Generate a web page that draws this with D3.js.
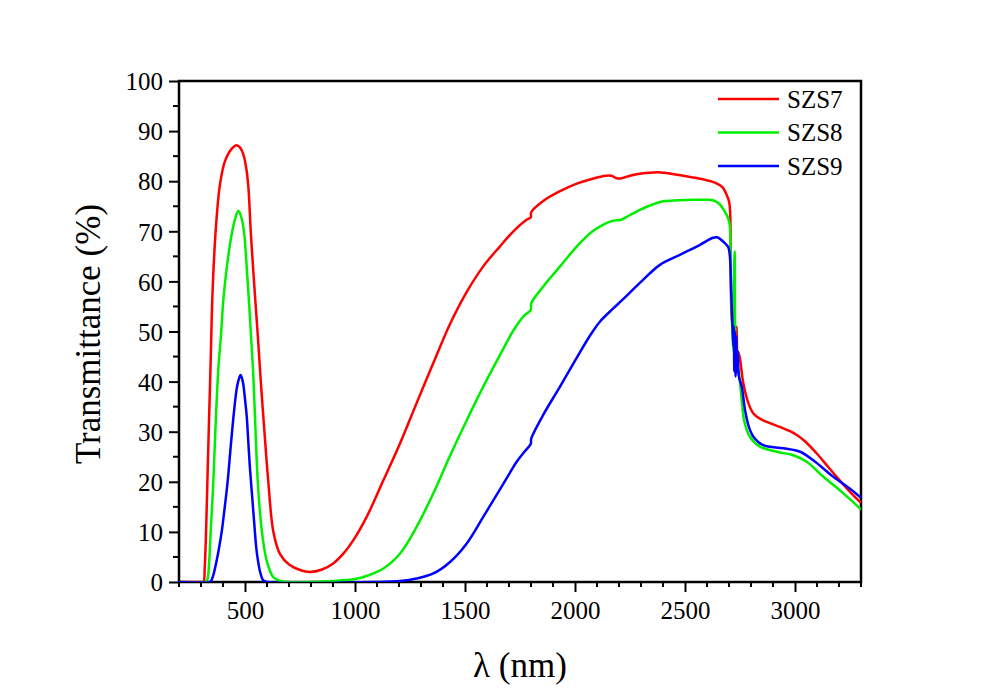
<!DOCTYPE html>
<html><head><meta charset="utf-8">
<script src="https://cdn.jsdelivr.net/npm/d3@7"></script>
<style>
body{margin:0;background:#fff;}
</style></head>
<body><svg id="c" width="1000" height="698"></svg>
<script>
const FONT = "'Liberation Serif','Times New Roman',Times,Tinos,'DejaVu Serif','Noto Serif',FreeSerif,serif";
const seriesNames = ["SZS7","SZS8","SZS9"];
const seriesColors = ["#ff0000","#00ee00","#0000ff"];
const xTickValues = [500,1000,1500,2000,2500,3000];
const yTickValues = [0,10,20,30,40,50,60,70,80,90,100];

const szs7 = [[200,0],[300,0],[311,0],[317,3],[323,10],[329,20],[335,30],[341,39.3],[345,46],[351,56],[361,66],[371,72.7],[386,79.3],[409,84],[440,86.5],[462,87.2],[478,86.7],[492,85.4],[505,82.8],[515,79],[527,69.3],[542,59.3],[558,49.3],[573,39.3],[590,29],[606,20],[629,10],[660,5.5],[700,3.5],[750,2.4],[795,2],[850,2.5],[901,3.7],[950,5.8],[992,8.3],[1053,13],[1129,20.3],[1205,27.7],[1280,35.7],[1356,43.7],[1432,51.5],[1508,57.9],[1583,63],[1659,67],[1720,70],[1780,72.3],[1799,72.8],[1801,73.8],[1860,76.2],[1932,78],[2008,79.5],[2080,80.5],[2140,81.1],[2165,81.1],[2190,80.6],[2212,80.6],[2250,81.1],[2295,81.5],[2380,81.8],[2450,81.4],[2530,80.8],[2598,80.2],[2636,79.7],[2670,78.8],[2689,77.3],[2700,76],[2705,74],[2708,62],[2712,53],[2720,50.5],[2728,51],[2732,46],[2735,51],[2738,45],[2742,46],[2750,44.5],[2765,39.7],[2788,35.7],[2810,33.7],[2840,32.6],[2886,31.7],[2940,30.8],[2977,30.1],[3010,29.3],[3045,28.1],[3098,25.7],[3150,23],[3189,21],[3250,18],[3300,15.8]];
const szs8 = [[200,0],[320,0],[329,0.5],[337,4],[344,10],[356,20],[367,32],[379,42.7],[391,49.3],[401,56],[417,62.7],[439,69.3],[455,72.5],[470,74.1],[485,72.5],[497,69.3],[508,62.7],[518,56],[527,49.3],[538,41],[548,30],[558,20],[570,13],[583,8],[600,4],[628,1],[660,0.2],[700,0],[800,0],[901,0.2],[1000,0.6],[1053,1.2],[1129,2.7],[1205,5.7],[1280,11],[1356,17.7],[1432,25.2],[1508,32.3],[1583,39],[1659,45.3],[1720,50.2],[1770,53.2],[1799,54.3],[1801,55.6],[1856,59],[1932,63],[2015,67.3],[2080,70],[2140,71.6],[2174,72.1],[2210,72.3],[2240,73],[2295,74.3],[2350,75.3],[2401,76],[2470,76.2],[2538,76.3],[2600,76.3],[2627,76.2],[2655,75.5],[2680,74],[2697,72.5],[2704,71],[2708,62],[2712,55],[2716,49],[2721,46],[2724,64],[2726,66],[2728,50],[2733,44],[2744,42],[2758,36.3],[2770,32],[2795,29],[2841,27],[2917,26],[2992,25.3],[3053,24],[3129,21],[3220,17.7],[3300,14.5]];
const szs9 = [[200,0],[340,0],[346,0.2],[355,1.2],[365,3],[380,6.3],[394,10],[408,15],[421,20],[436,27.5],[450,34],[462,38.5],[470,40.2],[480,41.3],[490,40],[500,36.5],[508,33],[515,28],[522,23],[530,18.5],[538,14],[545,10],[552,6.5],[560,4],[570,1.8],[583,0.3],[600,0],[1100,0],[1205,0.2],[1280,0.7],[1356,1.7],[1432,4],[1508,7.7],[1583,13],[1659,18.5],[1700,21.5],[1735,24],[1770,26],[1799,27.6],[1801,28.6],[1860,33.7],[1932,39],[2015,45.3],[2070,49.3],[2114,52],[2174,54.6],[2220,56.5],[2295,59.7],[2386,63.3],[2477,65.3],[2568,67.3],[2627,68.7],[2645,68.8],[2680,67.7],[2697,66.8],[2704,65],[2710,58],[2716,51],[2720,47],[2722,51],[2724,42],[2727,50],[2730,41],[2733,49],[2736,42],[2740,46],[2745,41],[2758,39],[2773,34.3],[2790,31],[2811,29],[2856,27.3],[2947,26.7],[3023,26],[3083,24.3],[3174,21],[3250,18.6],[3300,16.8]];
const allSeries = [szs7, szs8, szs9];

const svg = d3.select("#c");
const L=179, R=861, T=81, B=582;
const x = d3.scaleLinear().domain([200,3300]).range([L,R]);
const y = d3.scaleLinear().domain([0,100]).range([B,T]);

const xMinor = d3.range(200,3301,100).filter(v=>v%500!==0);
const yMinor = d3.range(5,100,10);
const g = svg.append("g");
g.selectAll(".xm").data(xMinor).join("line").attr("x1",d=>x(d)).attr("x2",d=>x(d)).attr("y1",B).attr("y2",B+5).attr("stroke","#000").attr("stroke-width",2);
g.selectAll(".ym").data(yMinor).join("line").attr("y1",d=>y(d)).attr("y2",d=>y(d)).attr("x1",L).attr("x2",L-6).attr("stroke","#000").attr("stroke-width",2);

const xAxis = svg.append("g").attr("transform",`translate(0,${B})`)
  .call(d3.axisBottom(x).tickValues(xTickValues).tickSize(10).tickPadding(9).tickFormat(d3.format("d")));
const yAxis = svg.append("g").attr("transform",`translate(${L},0)`)
  .call(d3.axisLeft(y).tickValues(yTickValues).tickSize(10).tickPadding(6).tickFormat(d3.format("d")));
[xAxis,yAxis].forEach(a=>{
  a.attr("font-family",null).style("font-family",FONT);
  a.select(".domain").remove();
  a.selectAll(".tick line").attr("stroke","#000").attr("stroke-width",2);
  a.selectAll(".tick text").style("font-family",FONT).attr("font-size",25).attr("fill","#000");
});
yAxis.selectAll(".tick text").attr("dy","0.35em");

svg.append("rect").attr("x",L).attr("y",T).attr("width",R-L).attr("height",B-T)
  .attr("fill","none").attr("stroke","#000").attr("stroke-width",2.5);

const line = d3.line().x(d=>x(d[0])).y(d=>y(d[1])).curve(d3.curveCatmullRom.alpha(0.5));
svg.append("clipPath").attr("id","cp").append("rect").attr("x",L).attr("y",T-5).attr("width",R-L).attr("height",B-T+5);
allSeries.forEach((s,i)=>{
  svg.append("path").datum(s).attr("d",line).attr("fill","none")
    .attr("stroke",seriesColors[i]).attr("stroke-width",2.5).attr("stroke-linejoin","round")
    .attr("clip-path","url(#cp)");
});

const leg = svg.append("g");
seriesNames.forEach((n,i)=>{
  const cy = 99 + i*33.5;
  leg.append("line").attr("x1",718).attr("x2",779).attr("y1",cy).attr("y2",cy).attr("stroke",seriesColors[i]).attr("stroke-width",2.5);
  leg.append("text").attr("x",787).attr("y",cy).attr("dy","0.35em").attr("font-size",25).style("font-family",FONT).text(n);
});

svg.append("text").attr("x",(L+R)/2).attr("y",677).attr("text-anchor","middle").attr("font-size",35).style("font-family",FONT).text("λ (nm)");
svg.append("text").attr("transform","translate(100,334) rotate(-90)").attr("text-anchor","middle").attr("font-size",35).style("font-family",FONT).text("Transmittance (%)");
</script></body></html>
